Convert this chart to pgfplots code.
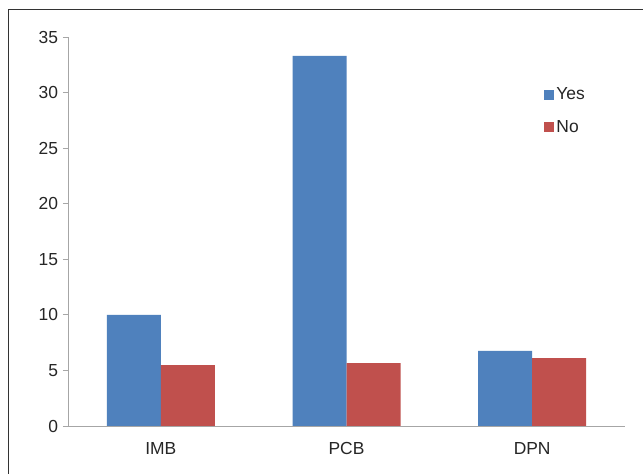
\documentclass[border=0pt]{standalone}
\usepackage{pgfplots}
\pgfplotsset{compat=1.18}
\usepackage{fontspec}
\setmainfont{Liberation Sans}
\definecolor{yesblue}{HTML}{4F81BD}
\definecolor{nored}{HTML}{C0504D}
\definecolor{axgray}{HTML}{A6A6A6}
\definecolor{txt}{HTML}{262626}
\begin{document}
\begin{tikzpicture}
\useasboundingbox (0,0) rectangle (643bp,474bp);
\fill[white] (0,0) rectangle (643bp,474bp);
\draw[black!80, line width=1bp] (8bp,-5bp) |- (650bp,464bp);
\begin{axis}[
  at={(68bp,48bp)}, anchor=south west,
  scale only axis, width=557bp, height=389bp,
  xmin=-0.5, xmax=2.5, ymin=0, ymax=35,
  ytick={0,5,...,35},
  xtick={0,1,2}, xticklabels={IMB,PCB,DPN},
  minor xtick={-0.5,0.5,1.5,2.5},
  axis lines*=left,
  axis line style={axgray, line width=0.9bp},
  major tick style={axgray, line width=0.9bp},
  minor tick style={axgray, line width=0.9bp},
  xtick style={draw=none},
  tick align=outside,
  major tick length=5bp, minor tick length=6bp,
  ybar=0pt, bar width=54bp,
  ticklabel style={font=\fontsize{17.5}{19}\selectfont, text=txt},
  /pgf/number format/assume math mode=true,
  yticklabel style={xshift=-1.5bp},
  xticklabel style={yshift=-8bp},
  legend style={draw=none, fill=none, at={(0.855,0.875)}, anchor=north west,
    font=\fontsize{17.5}{19}\selectfont, text=txt, row sep=15bp,
    inner sep=0pt, cells={anchor=west}},
  legend image code/.code={\fill[#1] (0bp,-5bp) rectangle (10bp,5bp);},
]
\addplot[fill=yesblue, draw=none] coordinates {(0,10.0) (1,33.3) (2,6.75)};
\addplot[fill=nored, draw=none] coordinates {(0,5.48) (1,5.65) (2,6.1)};
\legend{Yes,No}
\end{axis}
\end{tikzpicture}
\end{document}
